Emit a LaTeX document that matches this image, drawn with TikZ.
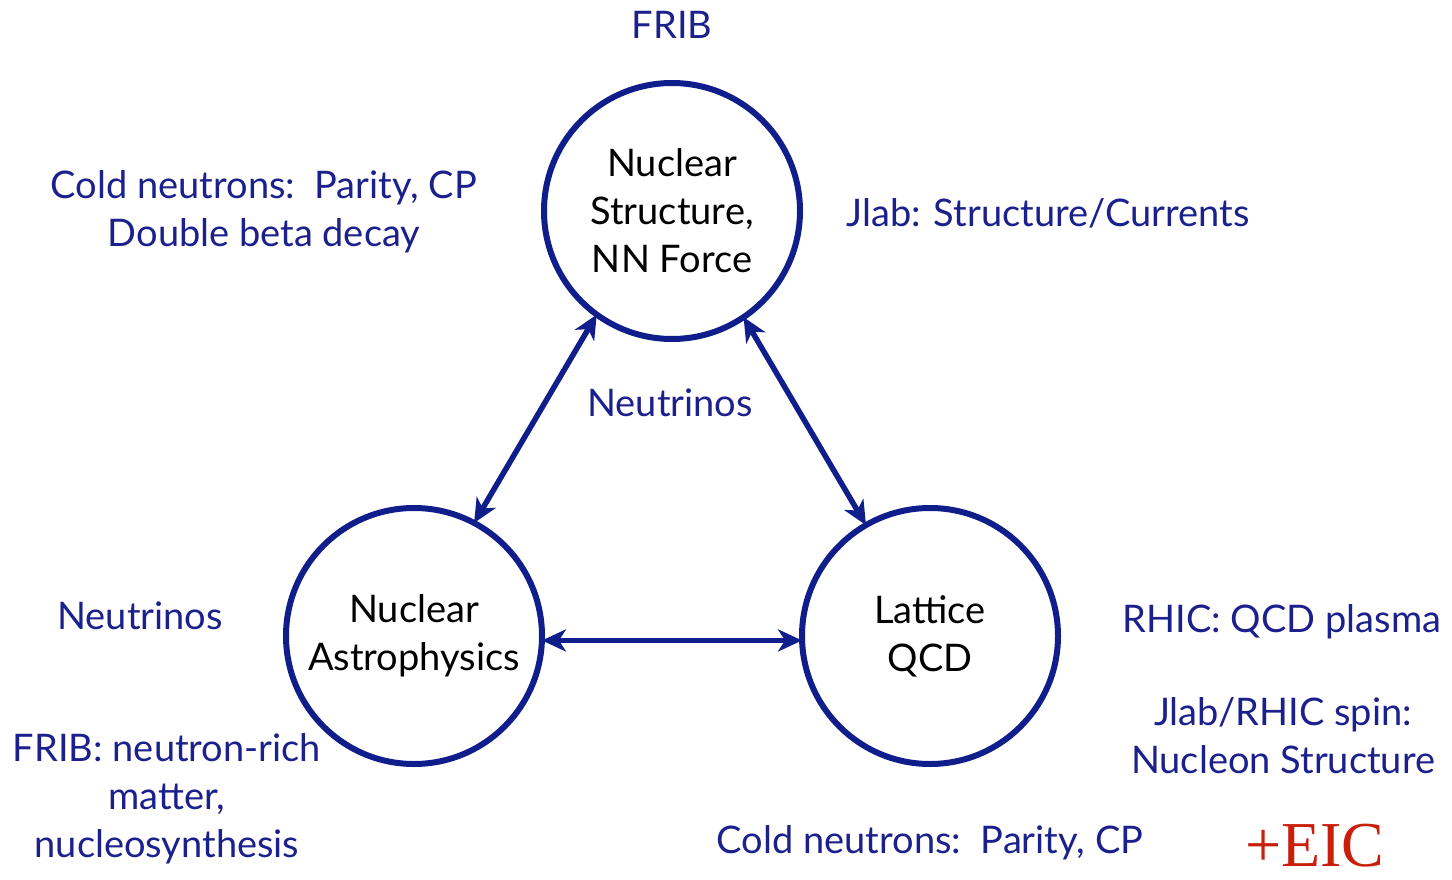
\documentclass[tikz,border=0pt]{standalone}
\usepackage{fontspec}
\setmainfont{Lato}
\newfontfamily\eicfont{Liberation Serif}
\usetikzlibrary{arrows.meta}
\definecolor{navy}{RGB}{16,30,140}
\definecolor{txtblue}{RGB}{28,32,140}
\definecolor{eicred}{RGB}{200,30,10}
\begin{document}
\begin{tikzpicture}[x=1pt,y=-1pt,
  topic/.style={circle,draw=navy,line width=6pt,minimum size=256pt,inner sep=0pt,outer sep=0pt,
    align=center,text=black,font=\fontsize{38}{48}\selectfont},
  lbl/.style={align=center,text=txtblue,font=\fontsize{38}{48}\selectfont,inner sep=0pt},
  arr/.style={draw=navy,line width=5.5pt,{Stealth[length=24pt,width=22pt,inset=7pt]}-{Stealth[length=24pt,width=22pt,inset=7pt]}}]
\useasboundingbox (0,0) rectangle (1452,880);
\node[topic] (top) at (672,211) {Nuclear\\Structure,\\NN Force};
\node[topic] (bl) at (414,636) {Nuclear\\Astrophysics};
\node[topic] (br) at (930,636) {Lattice\\QCD};
\node[lbl] (frib) at (672,25) {FRIB};
\node[lbl] (coldA) at (264,212) {Cold neutrons:\ \ Parity, CP\\Double beta decay};
\node[lbl] (jlab) at (1048,213) {Jlab: Structure/Currents};
\node[lbl] (nuc) at (670,403) {Neutrinos};
\node[lbl] (nul) at (140,616) {Neutrinos};
\node[lbl] (fribb) at (167,799) {FRIB: neutron-rich\\matter,\\nucleosynthesis};
\node[lbl] (rhic) at (1282,622) {RHIC: QCD plasma};
\node[lbl] (spin) at (1283,736) {Jlab/RHIC spin:\\Nucleon Structure};
\node[lbl] (coldB) at (930,843) {Cold neutrons:\ \ Parity, CP};
\node[text=eicred,inner sep=0pt,font=\eicfont\fontsize{64}{66}\selectfont] (eic) at (1315,846) {+EIC};
\draw[arr] (top.-126) -- (bl.62);
\draw[arr] (top.-56) -- (br.120);
\draw[arr] (bl.-2) -- (br.-178);
\end{tikzpicture}
\end{document}
